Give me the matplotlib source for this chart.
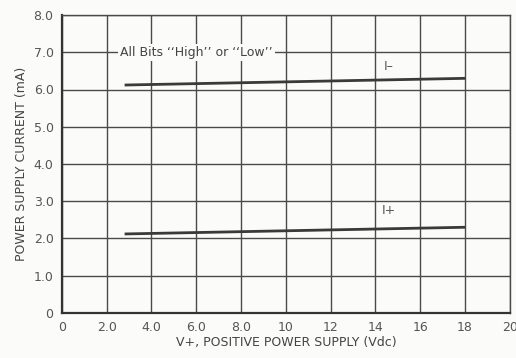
import matplotlib
matplotlib.use("Agg")
import matplotlib.pyplot as plt
from matplotlib import font_manager

names = {f.name for f in font_manager.fontManager.ttflist}
FONT = "Liberation Sans Narrow" if "Liberation Sans Narrow" in names else "DejaVu Sans"
plt.rcParams['font.family'] = [FONT, 'DejaVu Sans']

# data
v_supply = [2.8, 18.0]
i_minus = [6.12, 6.30]
i_plus = [2.12, 2.30]
x_ticks = [0, 2, 4, 6, 8, 10, 12, 14, 16, 18, 20]
x_tick_labels = ["0", "2.0", "4.0", "6.0", "8.0", "10", "12", "14", "16", "18", "20"]
y_ticks = [0, 1, 2, 3, 4, 5, 6, 7, 8]
y_tick_labels = ["0", "1.0", "2.0", "3.0", "4.0", "5.0", "6.0", "7.0", "8.0"]

fig = plt.figure(figsize=(5.16, 3.58), dpi=100, facecolor="#fbfbf9")
ax = fig.add_axes([0.120, 0.126, 0.868, 0.832], facecolor="#fbfbf9")

ax.set_xlim(0, 20)
ax.set_ylim(0, 8)
ax.set_xticks(x_ticks)
ax.set_xticklabels(x_tick_labels)
ax.set_yticks(y_ticks)
ax.set_yticklabels(y_tick_labels)
ax.grid(True, color="#4a4a4a", linewidth=1.0)
ax.tick_params(length=0, labelsize=9, colors="#555555", pad=6)
for s in ["top", "right"]:
    ax.spines[s].set_color("#4a4a4a")
    ax.spines[s].set_linewidth(1.0)
for s in ["left", "bottom"]:
    ax.spines[s].set_color("#333333")
    ax.spines[s].set_linewidth(1.6)

ax.plot(v_supply, i_minus, color="#3a3a3a", linewidth=2.0, solid_capstyle="butt")
ax.plot(v_supply, i_plus, color="#3a3a3a", linewidth=2.0, solid_capstyle="butt")

ax.text(14.6, 6.62, "I\u2013", fontsize=9, color="#555555", ha="center", va="center")
ax.text(14.6, 2.75, "I+", fontsize=9, color="#555555", ha="center", va="center")
ax.text(2.6, 7.0, "All Bits \u2018\u2018High\u2019\u2019 or \u2018\u2018Low\u2019\u2019", fontsize=9,
        color="#444444", ha="left", va="center",
        bbox=dict(facecolor="#fbfbf9", edgecolor="none", pad=1.5))

ax.set_xlabel("V+, POSITIVE POWER SUPPLY (Vdc)", fontsize=9, color="#444444", labelpad=1)
ax.set_ylabel("POWER SUPPLY CURRENT (mA)", fontsize=9, color="#444444", labelpad=4)

fig.savefig("out.png", dpi=100, facecolor=fig.get_facecolor())
